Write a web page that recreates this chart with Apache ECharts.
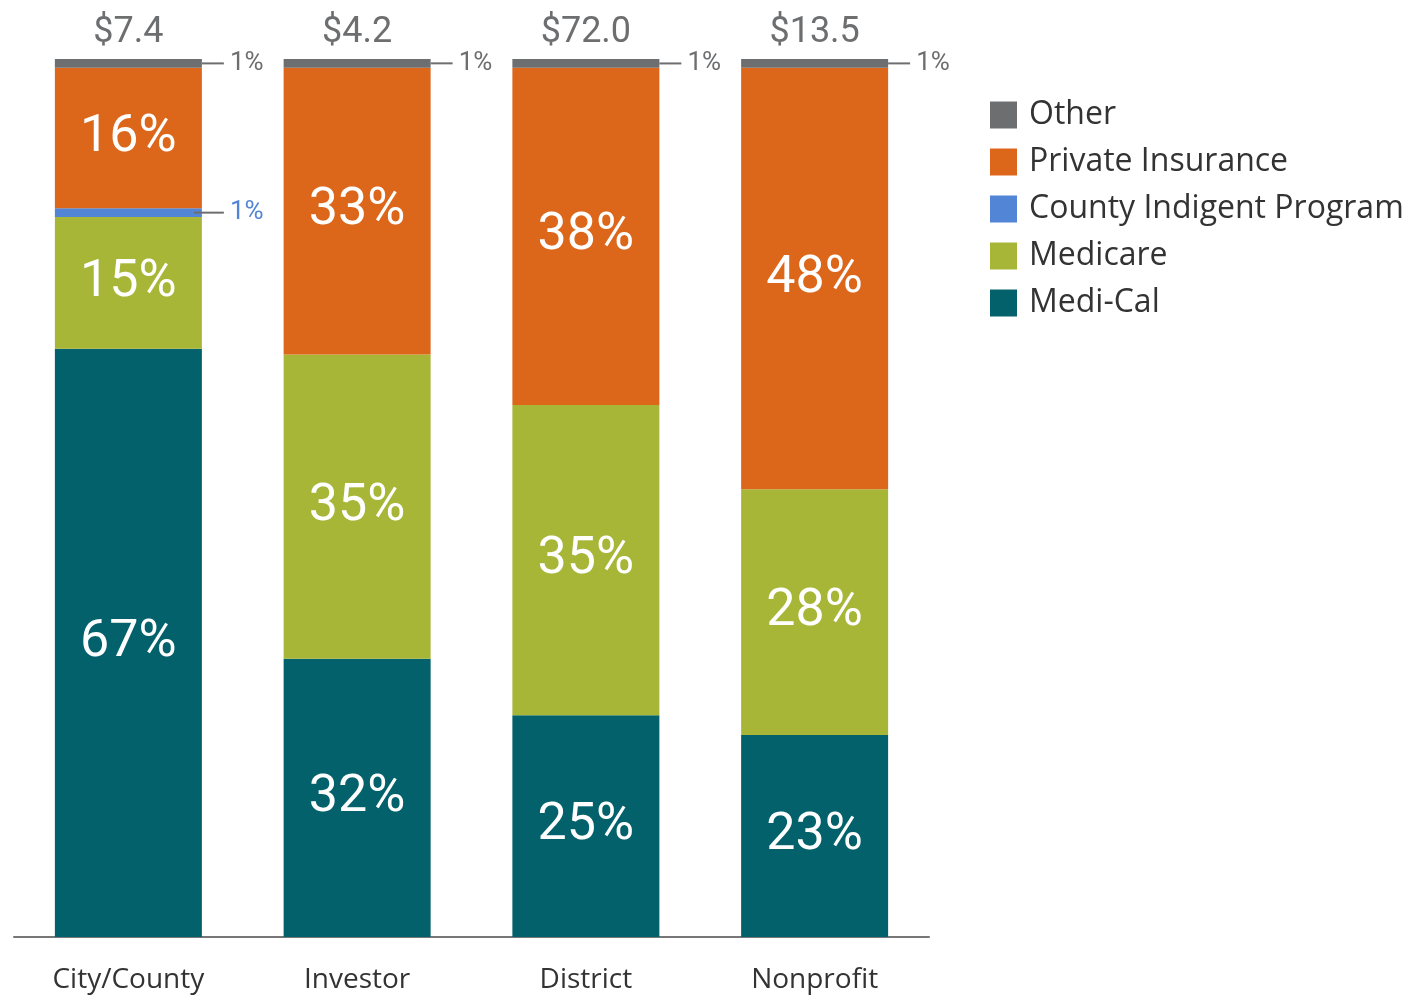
<!DOCTYPE html>
<html lang="en">
<head>
    <meta charset="UTF-8">
    <title>Payer mix by hospital type</title>
    <script src="https://cdn.jsdelivr.net/npm/echarts@6/dist/echarts.min.js"></script>
</head>
<body style="margin:0;">
<div id="main" style="width: 1405px;height:995px;"></div>

<script type="text/javascript">
  var categories = ['City/County', 'Investor', 'District', 'Nonprofit'];
  var totals = [7.4, 4.2, 72.0, 13.5];
  // percent shares as printed on the bars
  var mediCal = [67, 32, 25, 23];
  var medicare = [15, 35, 35, 28];
  var countyIndigent = [1, 0, 0, 0];
  var privateIns = [16, 33, 38, 48];
  var other = [1, 1, 1, 1];

  var narrow = 'Roboto, sans-serif';
  var plain = '"Open Sans", "Noto Sans", sans-serif';

  // each bar sums to 100
  var sums = categories.map(function (c, i) {
    return mediCal[i] + medicare[i] + countyIndigent[i] + privateIns[i] + other[i];
  });
  function norm(arr) {
    return arr.map(function (v, i) {
      return { value: v / sums[i] * 100, raw: v };
    });
  }

  var innerLabel = {
    show: true,
    position: 'inside',
    color: '#fff',
    fontFamily: narrow,
    fontSize: 52,
    formatter: function (p) { return p.data.raw ? p.data.raw + '%' : ''; }
  };

  function sideLabel(lineColor, textColor, dist, len) {
    return {
      show: true,
      position: 'right',
      distance: dist,
      formatter: function (p) { return p.data.raw ? '{l|}{t|' + p.data.raw + '%}' : ''; },
      rich: {
        l: { width: len, height: 2, backgroundColor: lineColor, verticalAlign: 'middle' },
        t: { color: textColor, fontFamily: narrow, fontSize: 26, padding: [0, 0, 0, 6], verticalAlign: 'middle' }
      }
    };
  }

  var myChart = echarts.init(document.getElementById('main'));

  var option = {
    animation: false,
    grid: { left: 14, right: 476, top: 59, bottom: 58 },
    legend: {
      orient: 'vertical',
      left: 985,
      top: 94,
      icon: 'rect',
      itemWidth: 27,
      itemHeight: 27,
      itemGap: 15,
      textStyle: { fontFamily: plain, fontSize: 32, lineHeight: 27, color: '#333', padding: [0, 0, 0, 7] },
      data: ['Other', 'Private Insurance', 'County Indigent Program', 'Medicare', 'Medi-Cal']
    },
    xAxis: [
      {
        type: 'category',
        data: categories,
        axisLine: { lineStyle: { color: '#777', width: 2 } },
        axisTick: { show: false },
        axisLabel: { margin: 29, fontFamily: plain, fontSize: 28, color: '#333' }
      },
      {
        type: 'category',
        position: 'top',
        data: totals.map(function (t) { return '$' + t.toFixed(1); }),
        axisLine: { show: false },
        axisTick: { show: false },
        axisLabel: { margin: 8, fontFamily: narrow, fontSize: 36, color: '#6d6e70' }
      }
    ],
    yAxis: { type: 'value', min: 0, max: 100, show: false },
    series: [
      { name: 'Medi-Cal', type: 'bar', stack: 'all', barWidth: 147, itemStyle: { color: '#02616b' }, label: innerLabel, data: norm(mediCal) },
      { name: 'Medicare', type: 'bar', stack: 'all', itemStyle: { color: '#a8b637' }, label: innerLabel, data: norm(medicare) },
      { name: 'County Indigent Program', type: 'bar', stack: 'all', itemStyle: { color: '#5285d6' }, label: sideLabel('#6d6e70', '#5285d6', -8, 30), data: norm(countyIndigent) },
      { name: 'Private Insurance', type: 'bar', stack: 'all', itemStyle: { color: '#dc6619' }, label: innerLabel, data: norm(privateIns) },
      { name: 'Other', type: 'bar', stack: 'all', itemStyle: { color: '#6d6e70' }, label: sideLabel('#6d6e70', '#6d6e70', 0, 22), data: norm(other) }
    ]
  };

  myChart.setOption(option);
</script>

</body>
</html>
